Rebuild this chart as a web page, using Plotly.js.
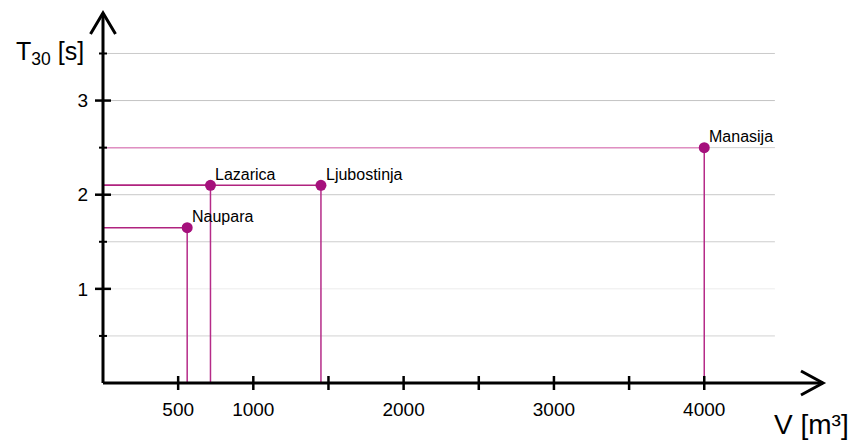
<!DOCTYPE html>
<html>
<head>
<meta charset="utf-8">
<script src="https://cdn.plot.ly/plotly-3.0.1.min.js"></script>
<style>html,body{margin:0;padding:0;background:#fff;}#chart{width:859px;height:442px;}</style>
</head>
<body>
<div id="chart"></div>
<script>
// Data
const names = ["Naupara", "Lazarica", "Ljubostinja", "Manasija"];
const volume = [560, 715, 1450, 4000];
const t30 = [1.65, 2.1, 2.1, 2.5];
const xTickVals = [500, 1000, 2000, 3000, 4000];
const xTickText = ["500", "1000", "2000", "3000", "4000"];
const xMarkVals = [500, 1000, 1500, 2000, 2500, 3000, 3500, 4000];
const yTickVals = [1, 2, 3];
const yTickText = ["1", "2", "3"];
const yMinorVals = [0.5, 1.5, 2.5, 3.5];
const gridVals = [0.5, 1, 1.5, 2, 2.5, 3, 3.5];
const gridColors = ["#d2d2d2", "#ececec", "#cdcdcd", "#c8c8c8", "#d0d0d0", "#c4c4c4", "#cacaca"];
const hLineColors = ["#b0237f", "#b0237f", "#b0237f", "#e08fc2"];

const X_MAX = 4790, Y_MAX = 3.93, GRID_END = 4470;
const lineCol = "#b52b88", markerCol = "#a5107c";
const font = "Liberation Sans, Arial, Helvetica, sans-serif";
const fx = v => v / X_MAX, fy = v => v / Y_MAX;
const DX = "x domain", DY = "y domain";

const traces = [];
names.forEach((n, i) => {
  traces.push({x: [0, volume[i]], y: [t30[i], t30[i]], mode: "lines",
    line: {color: hLineColors[i], width: 1.5}, hoverinfo: "skip", showlegend: false});
  traces.push({x: [volume[i], volume[i]], y: [0, t30[i]], mode: "lines",
    line: {color: lineCol, width: 1.5}, hoverinfo: "skip", showlegend: false});
});
traces.push({x: volume, y: t30, mode: "markers", text: names,
  marker: {color: markerCol, size: 11}, showlegend: false, cliponaxis: false});

const shapes = [];
gridVals.forEach((g, i) => shapes.push({type: "line", xref: DX, yref: DY, x0: 0, x1: fx(GRID_END), y0: fy(g), y1: fy(g),
  line: {color: gridColors[i], width: 1}, layer: "below"}));
// axes
shapes.push({type: "line", xref: DX, yref: DY, x0: 0, x1: 1, y0: 0, y1: 0, line: {color: "#000", width: 3}});
shapes.push({type: "line", xref: DX, yref: DY, x0: 0, x1: 0, y0: 0, y1: 1, line: {color: "#000", width: 3}});
// ticks
xMarkVals.forEach(v => shapes.push({type: "line", xref: DX, yref: DY, ysizemode: "pixel", yanchor: 0,
  x0: fx(v), x1: fx(v), y0: -7, y1: 7, line: {color: "#000", width: 2.5}}));
yTickVals.forEach(v => shapes.push({type: "line", xref: DX, yref: DY, xsizemode: "pixel", xanchor: 0,
  y0: fy(v), y1: fy(v), x0: -8, x1: 8, line: {color: "#000", width: 2.5}}));
yMinorVals.forEach(v => shapes.push({type: "line", xref: DX, yref: DY, xsizemode: "pixel", xanchor: 0,
  y0: fy(v), y1: fy(v), x0: -4, x1: 4, line: {color: "#000", width: 2}}));
// arrow heads
shapes.push({type: "path", xref: DX, yref: DY, xsizemode: "pixel", ysizemode: "pixel", xanchor: 1, yanchor: 0,
  path: "M -22,-12 L 0,0 L -22,12", line: {color: "#000", width: 3}});
shapes.push({type: "path", xref: DX, yref: DY, xsizemode: "pixel", ysizemode: "pixel", xanchor: 0, yanchor: 1,
  path: "M -12.5,-21 L 0,0 L 12.5,-21", line: {color: "#000", width: 3}});

const annotations = names.map((n, i) => ({x: volume[i], y: t30[i], xref: "x", yref: "y", text: n,
  showarrow: false, xanchor: "left", yanchor: "middle", xshift: 3, yshift: 11,
  font: {family: font, size: 16, color: "#000"}}));
annotations.push({xref: "paper", yref: "paper", x: -0.124, y: 0.893, xanchor: "left", yanchor: "middle",
  text: "T<sub>30</sub> [s]", showarrow: false, font: {family: font, size: 25, color: "#000"}});
annotations.push({xref: "paper", yref: "paper", x: 0.929, y: -0.113, xanchor: "left", yanchor: "middle",
  text: "V [m³]", showarrow: false, font: {family: font, size: 28, color: "#000"}});

const layout = {
  width: 859, height: 442,
  margin: {l: 103, r: 36, t: 13, b: 59},
  paper_bgcolor: "#fff", plot_bgcolor: "#fff",
  showlegend: false,
  xaxis: {range: [0, X_MAX], tickvals: xTickVals, ticktext: xTickText, ticks: "outside", ticklen: 9,
    tickcolor: "rgba(0,0,0,0)", showgrid: false, zeroline: false, showline: false,
    tickfont: {family: font, size: 19, color: "#000"}, fixedrange: true},
  yaxis: {range: [0, Y_MAX], tickvals: yTickVals, ticktext: yTickText, ticks: "outside", ticklen: 10,
    tickcolor: "rgba(0,0,0,0)", showgrid: false, zeroline: false, showline: false,
    tickfont: {family: font, size: 19, color: "#000"}, fixedrange: true},
  shapes: shapes,
  annotations: annotations
};
Plotly.newPlot("chart", traces, layout, {displayModeBar: false, staticPlot: true});
</script>
</body>
</html>
